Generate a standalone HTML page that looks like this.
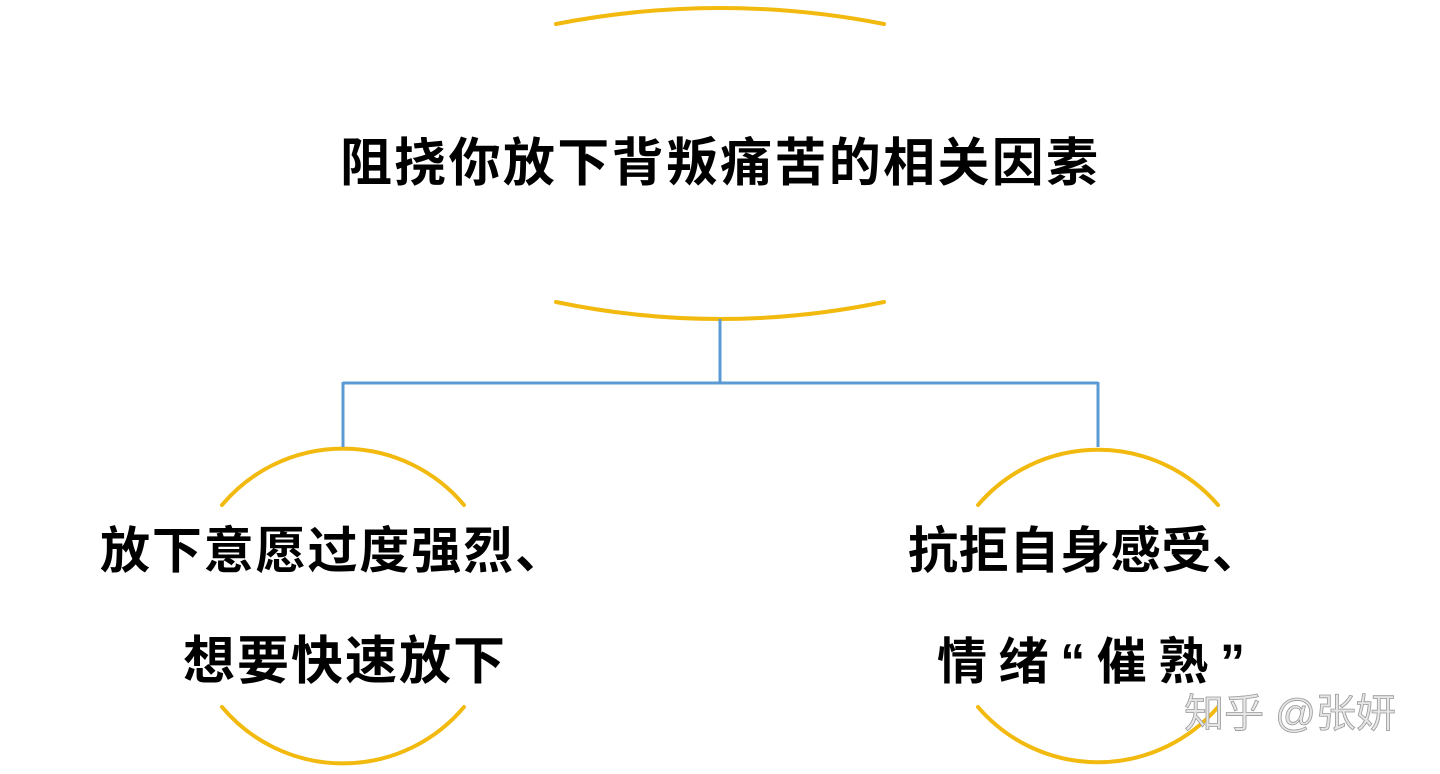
<!DOCTYPE html>
<html><head><meta charset="utf-8"><style>
html,body{margin:0;padding:0;background:#fff;}
svg{display:block}
text{font-family:"Liberation Sans","Noto Sans CJK SC","WenQuanYi Zen Hei",sans-serif;font-weight:bold;fill:#000;}
</style></head><body>
<svg width="1440" height="774" viewBox="0 0 1440 774">
<g fill="none" stroke="#f2b90f" stroke-width="4" stroke-linecap="round">
<path d="M556 24 Q720 -8 884 24"/>
<path d="M556 302 Q720 336 884 302"/>
<path d="M222 505 A158 158 0 0 1 464 505"/>
<path d="M222 707 A158 158 0 0 0 464 707"/>
<path d="M978 505 A158 158 0 0 1 1218 505"/>
<path d="M978 707 A158 158 0 0 0 1218 707"/>
</g>
<g fill="none" stroke="#5b9bd5" stroke-width="3">
<path d="M720 319 V383 M343 383 H1098 M343 382 V447 M1098 382 V447"/>
</g>
<text x="340" y="181" font-size="52" textLength="758" lengthAdjust="spacing">阻挠你放下背叛痛苦的相关因素</text>
<text x="100" y="568" font-size="50" textLength="465" lengthAdjust="spacing">放下意愿过度强烈、</text>
<text x="183" y="679" font-size="52" textLength="322" lengthAdjust="spacing">想要快速放下</text>
<text x="908" y="568" font-size="50" textLength="354" lengthAdjust="spacing">抗拒自身感受、</text>
<text x="937" y="679" font-size="50" textLength="308" lengthAdjust="spacing">情绪“催熟”</text>
<text x="1290" y="727" font-size="40" text-anchor="middle" style="fill:#e6e6e6;stroke:#999;stroke-width:0.8;font-weight:normal">知乎 @张妍</text>
</svg>
</body></html>
